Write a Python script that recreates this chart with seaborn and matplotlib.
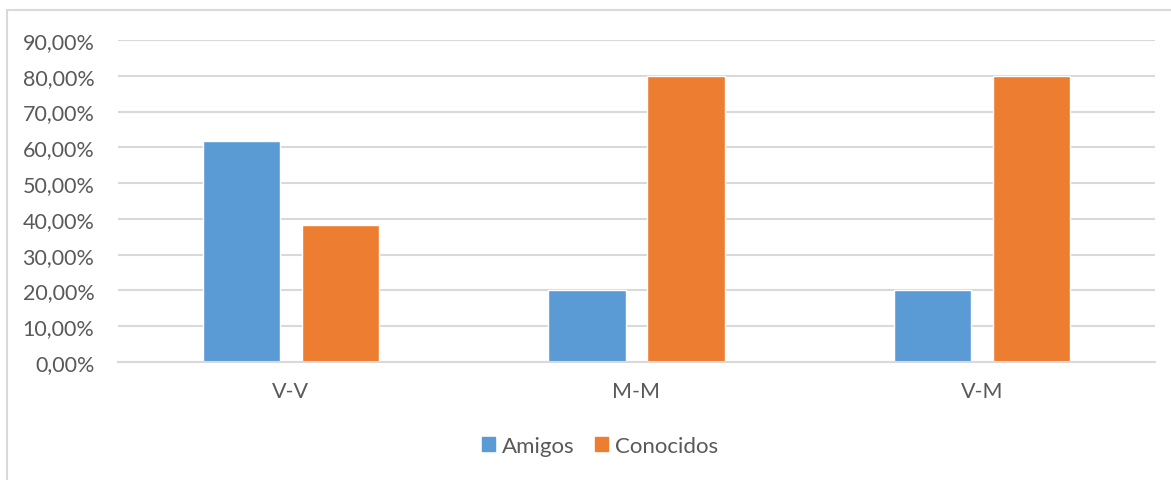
import matplotlib
matplotlib.use("Agg")
import matplotlib.pyplot as plt
import matplotlib.patches as mpatches
import seaborn as sns
import pandas as pd

categories = ["V-V", "M-M", "V-M"]
amigos = [0.618, 0.20, 0.20]
conocidos = [0.382, 0.80, 0.80]
series_names = ["Amigos", "Conocidos"]
colors = ["#5b9bd5", "#ed7d31"]

df = pd.DataFrame({
    "cat": categories * 2,
    "serie": [series_names[0]] * 3 + [series_names[1]] * 3,
    "val": amigos + conocidos,
})

sns.set_theme(style="white")
plt.rcParams["font.family"] = ["Lato", "DejaVu Sans"]

W, H = 1171, 481
fig = plt.figure(figsize=(W / 100, H / 100), dpi=100)
ax = fig.add_axes([118 / W, (H - 363) / H, (1155 - 118) / W, (363 - 41) / H])

# chart frame
fig.patches.append(mpatches.Rectangle((7 / W, -0.01), 1.2, (H - 11) / H + 0.01,
                                      transform=fig.transFigure, fill=False,
                                      edgecolor="#d9d9d9", linewidth=1.5))

sns.barplot(data=df, x="cat", y="val", hue="serie", palette=colors,
            width=0.573, gap=0.222, ax=ax, legend=False, saturation=1)

ax.set_ylim(0, 0.9)
ax.set_xlim(-0.5, 2.5)
ticks = [i / 10 for i in range(10)]
ax.set_yticks(ticks)
ax.set_yticklabels([f"{int(t * 100)},00%" for t in ticks])
ax.yaxis.grid(True, color="#d9d9d9", linewidth=1.5)
ax.set_axisbelow(True)
for s in ["top", "right", "left"]:
    ax.spines[s].set_visible(False)
ax.spines["bottom"].set_color("#d9d9d9")
ax.spines["bottom"].set_linewidth(1.5)
ax.tick_params(axis="both", length=0, labelsize=15.5, colors="#595959")
ax.tick_params(axis="y", pad=17)
ax.tick_params(axis="x", pad=14)
ax.set_xlabel("")
ax.set_ylabel("")

handles = [mpatches.Patch(color=c, label=n) for c, n in zip(colors, series_names)]
fig.legend(handles=handles, loc="center", bbox_to_anchor=(600 / W, (H - 447) / H),
           ncol=2, frameon=False, fontsize=16, labelcolor="#595959",
           handlelength=0.6, handleheight=0.6, handletextpad=0.3, columnspacing=0.9)

fig.savefig("out.png", dpi=100, facecolor="white")
